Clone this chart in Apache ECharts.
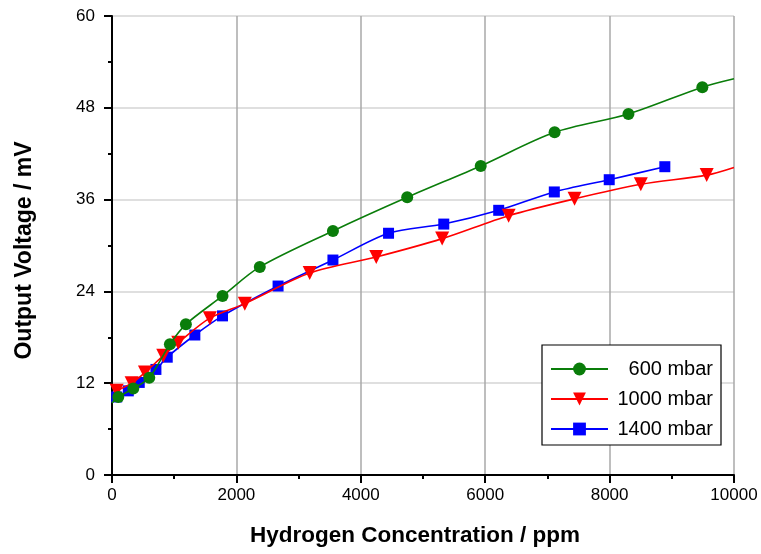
<!DOCTYPE html>
<html>
<head>
<meta charset="utf-8">
<script src="https://cdn.jsdelivr.net/npm/echarts@6/dist/echarts.min.js"></script>
<style>
  html, body { margin: 0; padding: 0; background: #fff; }
  #chart { width: 761px; height: 554px; }
</style>
</head>
<body>
<div id="chart"></div>
<script>
// Measured sensor output (ppm, mV) at three chamber pressures
const seriesNames = ['600 mbar', '1000 mbar', '1400 mbar'];

const p600 = [
  [101, 10.2], [342, 11.3], [599, 12.7], [931, 17.1], [1188, 19.7],
  [1777, 23.4], [2376, 27.2], [3552, 31.9], [4746, 36.3], [5928, 40.4],
  [7116, 44.8], [8303, 47.2], [9491, 50.7]
];
const p1000 = [
  [75, 11.0], [316, 12.0], [530, 13.4], [824, 15.6], [1065, 17.3],
  [1573, 20.5], [2135, 22.4], [3178, 26.4], [4248, 28.5], [5308, 30.9],
  [6377, 33.9], [7437, 36.1], [8502, 38.0], [9561, 39.2]
];
const p1400 = [
  [75, 10.2], [262, 11.0], [438, 12.1], [706, 13.8], [888, 15.4],
  [1332, 18.3], [1777, 20.8], [2670, 24.7], [3552, 28.1], [4446, 31.6],
  [5334, 32.8], [6217, 34.6], [7111, 37.0], [7994, 38.6], [8888, 40.3]
];

// Where the fitted curves run past the measured range (no marker drawn)
const p600Ends = { start: [0, 9.4], end: [10000, 51.8] };
const p1000Ends = { start: null, end: [10000, 40.2] };
const p1400Ends = { start: null, end: null };

const xTicks = { min: 0, max: 10000, step: 2000 };
const yTicks = { min: 0, max: 60, step: 12 };

const colors = ['#0a7d0a', '#ff0000', '#0000ff'];
const symbols = ['circle', 'triangle', 'rect'];
const symbolSizes = [12, 14, 11];
const symbolRotate = [0, 180, 0];

function withEnds(points, ends) {
  const out = points.map(p => ({ value: p }));
  if (ends.start) out.unshift({ value: ends.start, symbol: 'none' });
  if (ends.end) out.push({ value: ends.end, symbol: 'none' });
  return out;
}

const allData = [
  withEnds(p600, p600Ends),
  withEnds(p1000, p1000Ends),
  withEnds(p1400, p1400Ends)
];

const chart = echarts.init(document.getElementById('chart'), null, { renderer: 'canvas' });

const font = 'Arial, "Liberation Sans", sans-serif';

chart.setOption({
  animation: false,
  backgroundColor: '#ffffff',
  grid: { left: 112, right: 27, top: 16, bottom: 79, containLabel: false },
  xAxis: {
    type: 'value',
    min: xTicks.min, max: xTicks.max, interval: xTicks.step,
    name: 'Hydrogen Concentration / ppm',
    nameLocation: 'middle',
    nameGap: 49,
    nameTextStyle: { fontFamily: font, fontWeight: 'bold', fontSize: 22.5, color: '#000', padding: [0, 16, 0, 0] },
    axisLine: { onZero: false, lineStyle: { color: '#000', width: 2 } },
    axisTick: { show: true, inside: false, length: 8, lineStyle: { color: '#000', width: 2 } },
    minorTick: { show: true, splitNumber: 2, length: 4, lineStyle: { color: '#000', width: 2 } },
    axisLabel: { fontFamily: font, fontSize: 17, color: '#000', margin: 12, formatter: v => String(v) },
    splitLine: { show: true, lineStyle: { color: '#a8a8a8', width: 1.5 } }
  },
  yAxis: {
    type: 'value',
    min: yTicks.min, max: yTicks.max, interval: yTicks.step,
    name: 'Output Voltage / mV',
    nameLocation: 'middle',
    nameGap: 76,
    nameTextStyle: { fontFamily: font, fontWeight: 'bold', fontSize: 23, color: '#000', padding: [0, 10, 0, 0] },
    axisLine: { show: true, onZero: false, lineStyle: { color: '#000', width: 2 } },
    axisTick: { show: true, inside: false, length: 8, lineStyle: { color: '#000', width: 2 } },
    minorTick: { show: true, splitNumber: 2, length: 4, lineStyle: { color: '#000', width: 2 } },
    axisLabel: { fontFamily: font, fontSize: 17, color: '#000', margin: 17, formatter: v => String(v) },
    splitLine: { show: true, lineStyle: { color: '#d4d4d4', width: 1.5 } }
  },
  legend: {
    orient: 'vertical',
    left: 542, top: 345,
    width: 180,
    padding: [14, 8, 6, 8],
    itemGap: 10,
    itemWidth: 57,
    itemHeight: 16,
    borderColor: '#000',
    borderWidth: 1.2,
    backgroundColor: '#fff',
    data: seriesNames,
    formatter: '{n|{name}}',
    textStyle: {
      rich: {
        n: { fontFamily: font, fontSize: 20, color: '#000', width: 100, align: 'right' }
      }
    }
  },
  series: seriesNames.map((name, i) => ({
    name: name,
    type: 'line',
    data: allData[i],
    smooth: 0.3,
    symbol: symbols[i],
    symbolSize: symbolSizes[i],
    symbolRotate: symbolRotate[i],
    showAllSymbol: true,
    color: colors[i],
    itemStyle: { color: colors[i] },
    lineStyle: { color: colors[i], width: 1.6 },
    z: 3 - i
  }))
});
</script>
</body>
</html>
